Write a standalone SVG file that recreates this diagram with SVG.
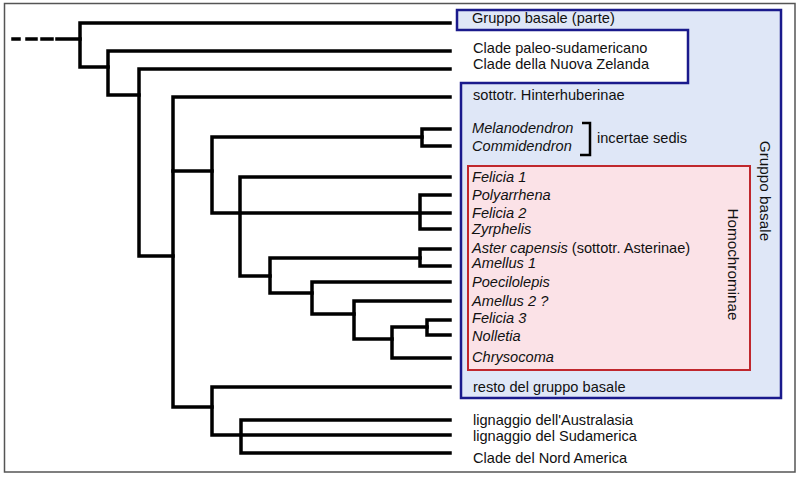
<svg xmlns="http://www.w3.org/2000/svg" width="800" height="477" viewBox="0 0 800 477">
<style>
text{font-family:"Liberation Sans",Arial,sans-serif;font-size:14.6px;fill:#111}
.i{font-style:italic}
.v{font-size:15.3px}
.tree path{fill:none;stroke:#000;stroke-width:3.5;stroke-linecap:square;stroke-linejoin:miter}
.brk{fill:none;stroke:#000;stroke-width:2.5}
</style>
<rect x="0" y="0" width="800" height="477" fill="#fff"/>
<rect id="frame" x="4.5" y="3.5" width="790.5" height="468.5" fill="none" stroke="#555" stroke-width="1.5"/>
<g id="box-gruppo-basale">
<path d="M457,10 H781 V398 H461 V83 H688 V30 H457 Z" fill="#dfe7f7" stroke="#1a1a8c" stroke-width="2.5"/>
<text class="v" transform="translate(760,191) rotate(90)" text-anchor="middle">Gruppo basale</text>
</g>
<g id="box-homochrominae">
<rect x="468" y="166" width="282" height="204" fill="#fbe2e7" stroke="#c0272d" stroke-width="2"/>
<text class="v" transform="translate(728,264.5) rotate(90)" text-anchor="middle">Homochrominae</text>
</g>
<g class="tree" id="connectors">
<path d="M13,39h6 M27,39h9 M42,39h10 M57,39H80"/>
<path d="M450,23H80V67H108"/>
<path d="M450,51H108V95H139"/>
<path d="M450,69H139V256H173"/>
<path d="M450,97H173V407H212"/>
<path d="M173,171H212"/>
<path d="M422,137H212V213H450"/>
<path d="M450,129H422V146H450"/>
<path d="M450,177H240V276H270"/>
<path d="M450,195H420V229H450"/>
<path d="M420,258H270V293H312"/>
<path d="M450,249H420V266H450"/>
<path d="M450,282H312V314H354"/>
<path d="M450,301H354V339H392"/>
<path d="M427,327H392V358H450"/>
<path d="M450,320H427V335H450"/>
<path d="M450,387H212V435H450"/>
<path d="M450,420H241V453H450"/>
</g>
<g id="n-gruppo-parte"><text x="472" y="23">Gruppo basale (parte)</text></g>
<g id="n-paleo"><text x="473" y="53">Clade paleo-sudamericano</text></g>
<g id="n-nz"><text x="473" y="69">Clade della Nuova Zelanda</text></g>
<g id="n-hinter"><text x="473" y="100">sottotr. Hinterhuberinae</text></g>
<g id="n-melano"><text class="i" x="472" y="133">Melanodendron</text></g>
<g id="n-commi"><text class="i" x="472" y="151">Commidendron</text></g>
<g id="n-incertae"><path class="brk" d="M582,123H590V155H580"/><text x="597" y="143">incertae sedis</text></g>
<g id="n-felicia1"><text class="i" x="472" y="182">Felicia 1</text></g>
<g id="n-polyarrhena"><text class="i" x="472" y="200">Polyarrhena</text></g>
<g id="n-felicia2"><text class="i" x="472" y="218">Felicia 2</text></g>
<g id="n-zyrphelis"><text class="i" x="472" y="234">Zyrphelis</text></g>
<g id="n-aster"><text x="472" y="253"><tspan class="i">Aster capensis</tspan> (sottotr. Asterinae)</text></g>
<g id="n-amellus1"><text class="i" x="472" y="268">Amellus 1</text></g>
<g id="n-poecilolepis"><text class="i" x="472" y="287">Poecilolepis</text></g>
<g id="n-amellus2"><text class="i" x="472" y="306">Amellus 2 ?</text></g>
<g id="n-felicia3"><text class="i" x="472" y="323">Felicia 3</text></g>
<g id="n-nolletia"><text class="i" x="472" y="341">Nolletia</text></g>
<g id="n-chrysocoma"><text class="i" x="472" y="362">Chrysocoma</text></g>
<g id="n-resto"><text x="473" y="392">resto del gruppo basale</text></g>
<g id="n-australasia"><text x="473" y="425">lignaggio dell'Australasia</text></g>
<g id="n-sudamerica"><text x="473" y="441">lignaggio del Sudamerica</text></g>
<g id="n-nordamerica"><text x="473" y="463">Clade del Nord America</text></g>
</svg>
